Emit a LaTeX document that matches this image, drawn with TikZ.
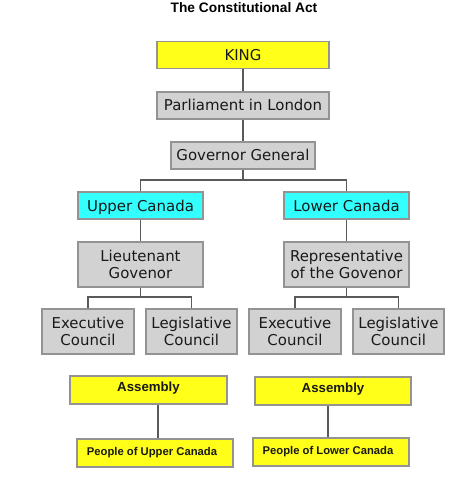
\documentclass[tikz,border=0pt]{standalone}
\usepackage{fontspec}
\usepackage{xcolor}
\setmainfont{DejaVu Sans}
\newfontfamily\arialfont{Liberation Sans}

\definecolor{kingyellow}{HTML}{FFFF1A}
\definecolor{boxgrey}{HTML}{D2D2D2}
\definecolor{boxcyan}{HTML}{33FFFF}
\definecolor{rimgrey}{HTML}{939393}
\definecolor{linkgrey}{HTML}{5A5A5A}

\begin{document}
\begin{tikzpicture}[x=1bp,y=-1bp,
    orgbox/.style={draw=rimgrey, line width=1.5bp, inner sep=0pt, align=center,
        text=black!90, font=\fontsize{15}{17}\selectfont},
    oneline/.style={text height=12bp, text depth=1bp},
    yellowbox/.style={orgbox, fill=kingyellow},
    greybox/.style={orgbox, fill=boxgrey},
    cyanbox/.style={orgbox, fill=boxcyan},
    lowbox/.style={orgbox, fill=kingyellow, minimum width=156bp, minimum height=28bp},
    link/.style={draw=linkgrey, line width=1.3bp}]
    \useasboundingbox (0,0) rectangle (456,480);

    % Title
    \node[font=\arialfont\bfseries\fontsize{13.8}{16}\selectfont] (title) at (244,8) {The Constitutional Act};

    % Crown and London
    \node[yellowbox, oneline, minimum width=172bp, minimum height=27bp] (king) at (243,55) {KING};
    \node[greybox, oneline, minimum width=172bp, minimum height=27bp] (parl) at (243,105.5) {Parliament in London};
    \node[greybox, oneline, minimum width=144bp, minimum height=27bp] (govgen) at (243,155.5) {Governor General};

    % Two provinces
    \node[cyanbox, oneline, minimum width=125bp, minimum height=27bp] (upper) at (140.5,205.5) {Upper Canada};
    \node[cyanbox, oneline, minimum width=125bp, minimum height=27bp] (lower) at (346.5,205.5) {Lower Canada};

    \node[greybox, minimum width=125bp, minimum height=45bp] (lieut) at (140.5,264.5) {Lieutenant\\Govenor};
    \node[greybox, minimum width=125bp, minimum height=45bp] (rep) at (346.5,264.5) {Representative\\of the Govenor};

    % Councils
    \node[greybox, minimum width=92bp, minimum height=45bp] (execU) at (88,331.5) {Executive\\Council};
    \node[greybox, minimum width=91bp, minimum height=45bp] (legU) at (191.5,331.5) {Legislative\\Council};
    \node[greybox, minimum width=92bp, minimum height=45bp] (execL) at (295,331.5) {Executive\\Council};
    \node[greybox, minimum width=91bp, minimum height=45bp] (legL) at (398.5,331.5) {Legislative\\Council};

    % Assemblies and people
    \node[lowbox, minimum width=157bp, font=\arialfont\bfseries\fontsize{13.3}{15}\selectfont] (asmU) at (148.5,390) {\raisebox{6bp}{Assembly}};
    \node[lowbox, font=\arialfont\bfseries\fontsize{13.3}{15}\selectfont] (asmL) at (333,391) {\raisebox{6bp}{Assembly}};
    \node[lowbox, font=\arialfont\bfseries\fontsize{11.3}{13}\selectfont] (pplU) at (155,453) {\hspace*{-6bp}People of Upper Canada};
    \node[lowbox, font=\arialfont\bfseries\fontsize{11.3}{13}\selectfont] (pplL) at (331,452) {\hspace*{-6bp}People of Lower Canada};

    % Split points
    \coordinate (split) at (243,180);
    \coordinate (splitU) at (140.5,297);
    \coordinate (splitL) at (346.5,297);

    % Connectors
    \draw[link] (king) -- (parl);
    \draw[link] (parl) -- (govgen);
    \draw[link] (govgen) -- (split);
    \draw[link] (upper.north) |- (split) -| (lower.north);
    \draw[link] (upper) -- (lieut);
    \draw[link] (lower) -- (rep);
    \draw[link] (lieut) -- (splitU);
    \draw[link] (execU.north) |- (splitU) -| (legU.north);
    \draw[link] (rep) -- (splitL);
    \draw[link] (execL.north) |- (splitL) -| (legL.north);
    \draw[link] ([xshift=3bp]pplU.north) -- ([xshift=3bp]pplU.north |- asmU.south);
    \draw[link] ([xshift=-3bp]pplL.north) -- ([xshift=-3bp]pplL.north |- asmL.south);
\end{tikzpicture}
\end{document}
